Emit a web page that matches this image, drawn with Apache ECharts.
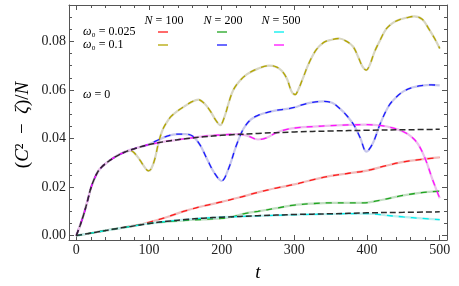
<!DOCTYPE html>
<html><head><meta charset="utf-8">
<script src="https://cdn.jsdelivr.net/npm/echarts@6/dist/echarts.min.js"></script>
<style>html,body{margin:0;padding:0;background:#fff}#c{width:459px;height:286px}</style>
</head><body><div id="c"></div>
<script>
// ---- data ----
var xMajor = [0, 100, 200, 300, 400, 500];
var xMinor = [20,40,60,80,120,140,160,180,220,240,260,280,320,340,360,380,420,440,460,480];
var yMajor = [0, 0.02, 0.04, 0.06, 0.08];
var yMinor = [0.005,0.01,0.015,0.025,0.03,0.035,0.045,0.05,0.055,0.065,0.07,0.075,0.085,0.09];

var refUpper = [[0,0],[5,0.004],[10,0.0085],[15,0.0138],[20,0.0195],[25,0.0235],[30,0.0265],[35,0.0283],[40,0.0296],[50,0.0318],[60,0.0335],[70,0.0348],[80,0.0358],[90,0.0367],[100,0.0375],[125,0.0389],[150,0.0399],[175,0.0407],[200,0.0413],[250,0.0421],[300,0.0427],[350,0.0431],[400,0.0434],[450,0.0436],[500,0.0438]];
var refLower = [[0,0],[25,0.0013],[50,0.0026],[75,0.0038],[100,0.0050],[125,0.0059],[150,0.0066],[175,0.0072],[200,0.0076],[250,0.0082],[300,0.0087],[350,0.0090],[400,0.0094],[450,0.0096],[500,0.0098]];

var w025n100 = [[0,0],[25,0.0013],[50,0.0026],[75,0.0039],[90,0.0047],[100,0.0055],[125,0.0077],[150,0.0102],[175,0.0122],[200,0.0139],[225,0.0158],[250,0.0178],[275,0.0196],[300,0.0211],[325,0.0230],[350,0.0246],[375,0.0257],[400,0.0268],[425,0.0287],[450,0.0304],[475,0.0314],[500,0.0322]];
var w025n200 = [[0,0],[25,0.0013],[50,0.0026],[75,0.0038],[100,0.0050],[150,0.0063],[175,0.0067],[200,0.0071],[215,0.0078],[230,0.0090],[250,0.0100],[275,0.0113],[300,0.0126],[325,0.0132],[350,0.0135],[375,0.0135],[395,0.0135],[410,0.0141],[425,0.0150],[450,0.0166],[475,0.0177],[500,0.0183]];
var w025n500 = [[0,0],[25,0.0013],[50,0.0026],[75,0.0038],[100,0.0050],[125,0.0059],[150,0.0066],[175,0.0072],[200,0.0076],[250,0.0081],[300,0.0086],[350,0.0089],[390,0.0091],[410,0.0089],[425,0.0084],[450,0.0077],[475,0.0071],[500,0.0066]];

var w1n100 = [[0,0],[5,0.004],[10,0.0085],[15,0.0138],[20,0.0195],[25,0.0235],[30,0.0265],[35,0.0283],[40,0.0296],[50,0.0318],[60,0.0335],[70,0.0348],[75,0.0350],[80,0.0340],[85,0.0322],[90,0.0300],[95,0.0278],[99,0.0267],[103,0.0275],[108,0.0315],[113,0.0380],[118,0.0430],[123,0.0460],[130,0.0490],[140,0.0515],[150,0.0535],[160,0.0553],[168,0.0560],[176,0.0545],[184,0.0515],[192,0.0475],[198,0.0455],[204,0.0490],[210,0.0550],[216,0.0600],[225,0.0638],[235,0.0665],[250,0.0688],[265,0.0700],[275,0.0695],[283,0.0678],[290,0.0645],[296,0.0595],[301,0.0581],[306,0.0605],[312,0.0650],[320,0.0710],[330,0.0765],[340,0.0795],[350,0.0806],[362,0.0812],[372,0.0800],[381,0.0778],[388,0.0735],[394,0.0695],[399,0.0682],[404,0.0705],[410,0.0755],[418,0.0805],[426,0.0850],[435,0.0875],[445,0.0890],[455,0.0898],[465,0.0903],[476,0.0891],[485,0.0852],[493,0.0812],[500,0.0771]];
var w1n200 = [[0,0],[5,0.004],[10,0.0085],[15,0.0138],[20,0.0195],[25,0.0235],[30,0.0265],[35,0.0283],[40,0.0296],[50,0.0318],[60,0.0335],[70,0.0348],[80,0.0358],[90,0.0367],[100,0.0376],[110,0.0390],[125,0.0410],[140,0.0418],[150,0.0418],[160,0.0410],[170,0.0375],[180,0.0315],[190,0.0258],[200,0.0225],[210,0.0280],[220,0.0370],[230,0.0440],[240,0.0478],[250,0.0495],[262,0.0507],[275,0.0516],[290,0.0522],[300,0.0528],[312,0.0540],[325,0.0549],[340,0.0553],[352,0.0547],[362,0.0525],[372,0.0495],[382,0.0455],[391,0.0400],[399,0.0346],[408,0.0381],[418,0.0460],[430,0.0535],[440,0.0570],[450,0.0594],[462,0.0610],[475,0.0618],[488,0.0621],[500,0.0619]];
var w1n500 = [[0,0],[5,0.004],[10,0.0085],[15,0.0138],[20,0.0195],[25,0.0235],[30,0.0265],[35,0.0283],[40,0.0296],[50,0.0318],[60,0.0335],[70,0.0348],[80,0.0358],[90,0.0367],[100,0.0375],[125,0.0389],[150,0.0399],[175,0.0409],[200,0.0415],[220,0.0418],[235,0.0412],[250,0.0396],[262,0.0403],[275,0.0424],[290,0.0438],[305,0.0445],[325,0.0449],[350,0.0453],[375,0.0456],[400,0.0457],[420,0.0453],[435,0.0444],[450,0.0428],[460,0.0410],[470,0.0378],[480,0.0317],[490,0.0232],[500,0.0154]];

// ---- styles ----
var SERIF = "'Liberation Serif','Times New Roman',serif";
var FRAME = '#555';
var curves = [
  {d: w025n100, c: '#ff1a1a', l: '#f0bcbc'},
  {d: w025n200, c: '#1fa51f', l: '#c2dec2'},
  {d: w025n500, c: '#00eeee', l: '#bdeeee'},
  {d: w1n100,   c: '#b3a600', l: '#d8d6c0'},
  {d: w1n200,   c: '#1a1aff', l: '#c6c6ec'},
  {d: w1n500,   c: '#ff10ff', l: '#ecbeec'}
];
var series = [];
curves.forEach(function (cv) {
  series.push({type:'line', data: cv.d, smooth: 0.35, symbol:'none', silent:true,
    lineStyle:{color: cv.l, width: 2.2}});
});
curves.forEach(function (cv) {
  series.push({type:'line', data: cv.d, smooth: 0.35, symbol:'none', silent:true,
    lineStyle:{color: cv.c, width: 1.3, type:[6,6]}});
});
[refUpper, refLower].forEach(function (d) {
  series.push({type:'line', data: d, smooth: 0.35, symbol:'none', silent:true,
    lineStyle:{color:'#2b2b2b', width: 1.5, type:[6,3]}});
});

function xAx(pos, vals, len, showLine, showLabel) {
  return {type:'value', position: pos, min:-10, max:510, splitLine:{show:false},
    axisLine:{show: showLine, onZero:false, lineStyle:{color: FRAME, width:1}},
    axisTick:{show:true, inside:true, length: len, customValues: vals, lineStyle:{color: FRAME}},
    axisLabel:{show: showLabel, customValues: vals, fontFamily: SERIF, fontSize: 14, color:'#222', margin: 3}};
}
function yAx(pos, vals, len, showLine, showLabel) {
  return {type:'value', position: pos, min:-0.0018, max:0.095, splitLine:{show:false},
    axisLine:{show: showLine, onZero:false, lineStyle:{color: FRAME, width:1}},
    axisTick:{show:true, inside:true, length: len, customValues: vals, lineStyle:{color: FRAME}},
    axisLabel:{show: showLabel, customValues: vals, fontFamily: SERIF, fontSize: 14, color:'#222', margin: 3,
      formatter: function (v) { return v.toFixed(2); }}};
}

var rich = {
  p:{fontFamily: SERIF, fontSize: 12, color:'#111'},
  i:{fontFamily: SERIF, fontSize: 12, fontStyle:'italic', color:'#111'}
};
function txt(x, y, text, align) {
  return {type:'text', x: x, y: y, silent:true,
    style:{text: text, rich: rich, align: align || 'left', verticalAlign:'middle'}};
}
function seg(x, y, color) {
  return {type:'line', silent:true, shape:{x1:x, y1:y, x2:x+10, y2:y},
    style:{stroke: color, lineWidth: 1.3}};
}
var bigRich = {
  p:{fontFamily: SERIF, fontSize: 19, color:'#111'},
  i:{fontFamily: SERIF, fontSize: 19, fontStyle:'italic', color:'#111'}
};

var chart = echarts.init(document.getElementById('c'), null, {renderer:'canvas'});
chart.setOption({
  animation: false,
  backgroundColor: '#fff',
  grid: {left: 69, right: 12, top: 5, bottom: 46},
  xAxis: [xAx('bottom', xMajor, 5, true, true), xAx('bottom', xMinor, 3, false, false),
          xAx('top', xMajor, 5, true, false), xAx('top', xMinor, 3, false, false)],
  yAxis: [yAx('left', yMajor, 5, true, true), yAx('left', yMinor, 3, false, false),
          yAx('right', yMajor, 5, true, false), yAx('right', yMinor, 3, false, false)],
  series: series,
  graphic: [
    txt(164, 21, '{i|N}{p| = 100}', 'center'),
    txt(223, 21, '{i|N}{p| = 200}', 'center'),
    txt(281, 21, '{i|N}{p| = 500}', 'center'),
    txt(83, 32, '{i|ω}{p|₀ = 0.025}'),
    txt(83, 45, '{i|ω}{p|₀ = 0.1}'),
    txt(83, 95, '{i|ω}{p| = 0}'),
    seg(158, 32, '#ff1a1a'), seg(158, 45, '#b3a600'),
    seg(217, 32, '#1fa51f'), seg(217, 45, '#1a1aff'),
    seg(274, 32, '#00eeee'), seg(274, 45, '#ff10ff'),
    {type:'text', x: 258, y: 273, silent:true,
      style:{text:'{i|t}', rich: bigRich, align:'center', verticalAlign:'middle'}},
    {type:'text', x: 23, y: 125, rotation: Math.PI/2, silent:true,
      style:{text:'{p|(}{i|C}{p|²  −  }{i|ζ}{p|)/}{i|N}', rich: bigRich, align:'center', verticalAlign:'middle'}}
  ]
});
</script></body></html>
